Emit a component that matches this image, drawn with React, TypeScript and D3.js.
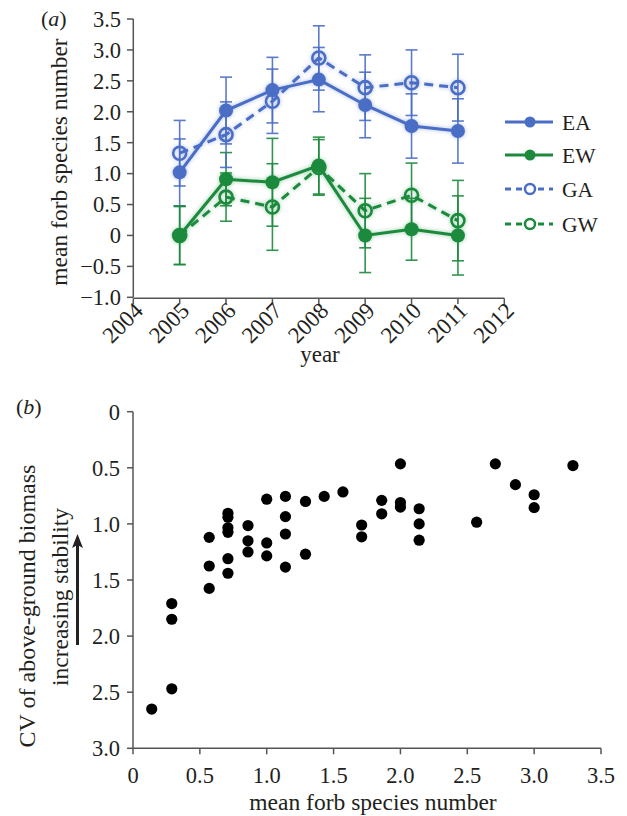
import React from "react";
import * as d3 from "d3";

// ---------- Panel (a) data ----------
const years = [2005, 2006, 2007, 2008, 2009, 2010, 2011];
const yearTicks = [2004, 2005, 2006, 2007, 2008, 2009, 2010, 2011, 2012];
const EA = [1.02, 2.02, 2.35, 2.52, 2.11, 1.77, 1.69];
const EAerr = [0.54, 0.54, 0.53, 0.52, 0.53, 0.52, 0.52];
const EW = [0, 0.91, 0.86, 1.13, 0, 0.1, 0];
const EWerr = [0.47, 0.43, 0.71, 0.46, 0.6, 0.5, 0.64];
const GA = [1.33, 1.63, 2.17, 2.87, 2.39, 2.47, 2.39];
const GAerr = [0.53, 0.53, 0.52, 0.52, 0.53, 0.53, 0.54];
const GW = [0, 0.62, 0.46, 1.1, 0.4, 0.65, 0.24];
const GWerr = [0.47, 0.39, 0.7, 0.45, 0.6, 0.52, 0.65];
const aYTicks = [-1, -0.5, 0, 0.5, 1, 1.5, 2, 2.5, 3, 3.5];

// ---------- Panel (b) data ----------
const forbX = [
  0.14, 0.29, 0.29, 0.29, 0.57, 0.57, 0.57, 0.71, 0.71, 0.71, 0.71, 0.71, 0.71,
  0.86, 0.86, 0.86, 1.0, 1.0, 1.0, 1.14, 1.14, 1.14, 1.14, 1.29, 1.29, 1.43,
  1.57, 1.71, 1.71, 1.86, 1.86, 2.0, 2.0, 2.0, 2.14, 2.14, 2.14, 2.57, 2.71,
  2.86, 3.0, 3.0, 3.29,
];
const cvY = [
  2.65, 1.71, 1.85, 2.47, 1.12, 1.375, 1.575, 0.905, 0.94, 1.035, 1.075, 1.31,
  1.44, 1.015, 1.15, 1.25, 0.78, 1.17, 1.285, 0.755, 0.935, 1.09, 1.385, 0.8,
  1.27, 0.755, 0.715, 1.01, 1.115, 0.79, 0.91, 0.465, 0.81, 0.85, 0.865, 1.0,
  1.145, 0.985, 0.465, 0.65, 0.74, 0.855, 0.48,
];
const bXTicks = [0, 0.5, 1, 1.5, 2, 2.5, 3, 3.5];
const bYTicks = [0, 0.5, 1, 1.5, 2, 2.5, 3];

const series = [
  { name: "EA", values: EA, err: EAerr, color: "#4a6dc5", dashed: false, filled: true },
  { name: "EW", values: EW, err: EWerr, color: "#1b8a3c", dashed: false, filled: true },
  { name: "GA", values: GA, err: GAerr, color: "#4a6dc5", dashed: true, filled: false },
  { name: "GW", values: GW, err: GWerr, color: "#1b8a3c", dashed: true, filled: false },
];

const FONT = "'Liberation Serif', 'Times New Roman', Times, serif";
const TXT = "#231f20";
const AX = "#555";

const fmt = (v: number) => {
  if (v === 0) return "0";
  const s = v.toFixed(1);
  return v < 0 ? "\u2212" + s.slice(1) : s;
};

export default function App() {
  // panel (a) scales
  const xa = d3.scaleLinear().domain([2004, 2012]).range([133.3, 504.3]);
  const ya = d3.scaleLinear().domain([-1, 3.5]).range([297.3, 19]);
  // panel (b) scales
  const xb = d3.scaleLinear().domain([0, 3.5]).range([133, 601]);
  const yb = d3.scaleLinear().domain([0, 3]).range([411.7, 748.3]);

  const line = d3
    .line<number>()
    .x((_, i) => xa(years[i]))
    .y((d) => ya(d));

  const legendRows = [122, 155, 189, 224];

  const drawSeries = (glow: boolean) => (
    <g filter={glow ? "url(#glow)" : undefined} opacity={glow ? 0.45 : 1}>
      {series.map((s) => (
        <path
          key={s.name + "l"}
          d={line(s.values) || ""}
          fill="none"
          stroke={s.color}
          strokeWidth={3}
          strokeDasharray={s.dashed ? "9,6" : undefined}
        />
      ))}
      {series
        .filter((s) => !s.filled)
        .map((s) =>
          s.values.map((v, i) => (
            <circle
              key={s.name + "m" + i}
              cx={xa(years[i])}
              cy={ya(v)}
              r={6.5}
              fill="none"
              stroke={s.color}
              strokeWidth={2.6}
            />
          ))
        )}
      {series
        .filter((s) => s.filled)
        .map((s) =>
          s.values.map((v, i) => (
            <circle key={s.name + "m" + i} cx={xa(years[i])} cy={ya(v)} r={7} fill={s.color} />
          ))
        )}
    </g>
  );

  return (
    <svg
      width={627}
      height={816}
      style={{ position: "absolute", left: 0, top: 0, background: "#fff" }}
      fontFamily={FONT}
    >
      <defs>
        <filter id="glow" x="-20%" y="-20%" width="140%" height="140%">
          <feGaussianBlur stdDeviation="2" />
        </filter>
      </defs>
      <rect x={0} y={0} width={627} height={816} fill="#fff" />

      {/* ================= Panel (a) ================= */}
      <text x={41} y={26} fontSize={22} fill={TXT}>
        (<tspan fontStyle="italic">a</tspan>)
      </text>

      {/* y axis */}
      <line x1={133.3} x2={133.3} y1={ya(3.5)} y2={ya(-1)} stroke={AX} strokeWidth={1.5} />
      {aYTicks.map((t) => (
        <g key={"ay" + t}>
          <line x1={127} x2={133.3} y1={ya(t)} y2={ya(t)} stroke={AX} strokeWidth={1.5} />
          <text x={121} y={ya(t)} dy="0.35em" textAnchor="end" fontSize={22.5} fill={TXT}>
            {fmt(t)}
          </text>
        </g>
      ))}
      {/* x axis */}
      <line x1={xa(2004)} x2={xa(2012)} y1={298.3} y2={298.3} stroke={AX} strokeWidth={1.5} />
      {yearTicks.map((t) => (
        <g key={"ax" + t}>
          <line x1={xa(t)} x2={xa(t)} y1={298.3} y2={304} stroke={AX} strokeWidth={1.5} />
          <text
            transform={`translate(${xa(t) + 11},${312}) rotate(-45)`}
            textAnchor="end"
            fontSize={23}
            fill={TXT}
          >
            {t}
          </text>
        </g>
      ))}
      <text x={320} y={362} textAnchor="middle" fontSize={23} fill={TXT}>
        year
      </text>
      <text
        transform={`translate(67,${162}) rotate(-90)`}
        textAnchor="middle"
        fontSize={23.5}
        fill={TXT}
      >
        mean forb species number
      </text>

      {/* error bars */}
      {series.map((s) =>
        s.values.map((v, i) => {
          const x = xa(years[i]);
          const y1 = ya(v - s.err[i]);
          const y2 = ya(v + s.err[i]);
          return (
            <g key={s.name + "e" + i} stroke={s.color} strokeWidth={1.6} opacity={0.9}>
              <line x1={x} x2={x} y1={y1} y2={y2} />
              <line x1={x - 6} x2={x + 6} y1={y1} y2={y1} />
              <line x1={x - 6} x2={x + 6} y1={y2} y2={y2} />
            </g>
          );
        })
      )}
      {drawSeries(true)}
      {drawSeries(false)}

      {/* legend */}
      {series.map((s, k) => {
        const y = legendRows[k];
        return (
          <g key={"lg" + s.name}>
            <line
              x1={505}
              x2={553}
              y1={y}
              y2={y}
              stroke={s.color}
              strokeWidth={3}
              strokeDasharray={s.dashed ? "6,5" : undefined}
            />
            {s.filled ? (
              <circle cx={530} cy={y} r={5.5} fill={s.color} />
            ) : (
              <circle cx={530} cy={y} r={5} fill="#fff" stroke={s.color} strokeWidth={2.5} />
            )}
            <text x={562} y={y} dy="0.35em" fontSize={21.5} fill={TXT}>
              {s.name}
            </text>
          </g>
        );
      })}

      {/* ================= Panel (b) ================= */}
      <text x={16} y={414} fontSize={22} fill={TXT}>
        (<tspan fontStyle="italic">b</tspan>)
      </text>
      <line x1={133} x2={133} y1={yb(0)} y2={yb(3)} stroke={AX} strokeWidth={1.5} />
      {bYTicks.map((t) => (
        <g key={"by" + t}>
          <line x1={127} x2={133} y1={yb(t)} y2={yb(t)} stroke={AX} strokeWidth={1.5} />
          <text x={120} y={yb(t)} dy="0.35em" textAnchor="end" fontSize={22.5} fill={TXT}>
            {fmt(t)}
          </text>
        </g>
      ))}
      <line x1={xb(0)} x2={xb(3.5)} y1={yb(3)} y2={yb(3)} stroke={AX} strokeWidth={1.5} />
      {bXTicks.map((t) => (
        <g key={"bx" + t}>
          <line x1={xb(t)} x2={xb(t)} y1={yb(3)} y2={yb(3) + 6} stroke={AX} strokeWidth={1.5} />
          <text x={xb(t)} y={783} textAnchor="middle" fontSize={22.5} fill={TXT}>
            {fmt(t)}
          </text>
        </g>
      ))}
      <text x={373} y={810} textAnchor="middle" fontSize={23.5} fill={TXT}>
        mean forb species number
      </text>
      <text
        transform={`translate(35,606) rotate(-90)`}
        textAnchor="middle"
        fontSize={24}
        fill={TXT}
      >
        CV of above-ground biomass
      </text>
      <text
        transform={`translate(68,597) rotate(-90)`}
        textAnchor="middle"
        fontSize={23.5}
        fill={TXT}
      >
        increasing stability
      </text>
      {/* arrow */}
      <line x1={77.5} x2={77.5} y1={645} y2={545} stroke="#222" strokeWidth={3} />
      <path d="M77.5,534 L72,548 L77.5,545 L83,548 Z" fill="#222" />

      {/* points */}
      {forbX.map((x, i) => (
        <circle key={"p" + i} cx={xb(x)} cy={yb(cvY[i])} r={5.6} fill="#000" />
      ))}
    </svg>
  );
}
